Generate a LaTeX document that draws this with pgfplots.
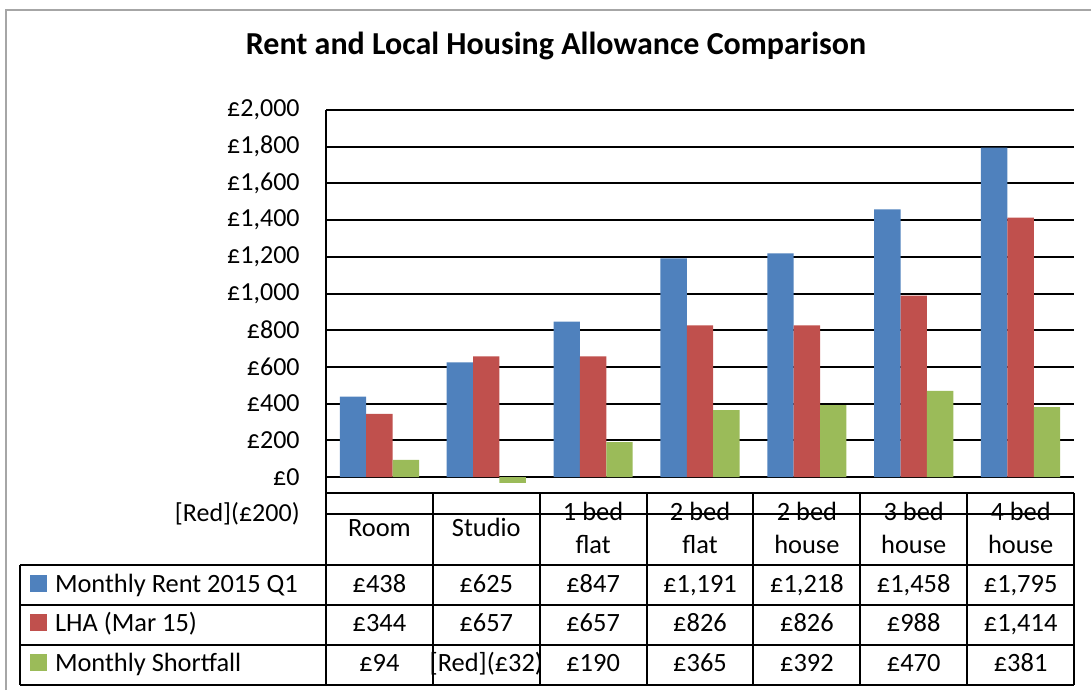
\documentclass[border=0pt]{standalone}
\usepackage{fontspec}
\setmainfont{Carlito}
\usepackage{pgfplots}
\pgfplotsset{compat=1.18}
\definecolor{cblue}{HTML}{4F81BD}
\definecolor{cred}{HTML}{C0504D}
\definecolor{cgreen}{HTML}{9BBB59}
\newcommand\tf{\fontsize{13.2}{15}\selectfont}
\newcommand\yf{\fontsize{13.0}{15}\selectfont}
\begin{document}
\begin{tikzpicture}
\useasboundingbox (0,0) rectangle (545.5pt,-345pt);
\begin{axis}[
  at={(163pt,-256.85pt)}, anchor=south west,
  scale only axis, width=374pt, height=201.85pt,
  xmin=-0.5, xmax=6.5, ymin=-200, ymax=2000,
  xtick=\empty,
  ytick={-200,0,200,400,600,800,1000,1200,1400,1600,1800,2000},
  yticklabels={{[Red](£200)},{£0},{£200},{£400},{£600},{£800},{£1,000},{£1,200},{£1,400},{£1,600},{£1,800},{£2,000}},
  axis x line=none, axis y line*=left,
  y axis line style={line width=1pt, black},
  ymajorgrids, grid style={black, line width=1pt},
  major tick length=0pt,
  yticklabel style={font=\yf, anchor=east, inner sep=0pt, xshift=-13pt},
  ybar=0pt, bar width=13.2pt,
]
\addplot[fill=cblue, draw=none] coordinates {(0,438) (1,625) (2,847) (3,1191) (4,1218) (5,1458) (6,1795)};
\addplot[fill=cred, draw=none] coordinates {(0,344) (1,657) (2,657) (3,826) (4,826) (5,988) (6,1414)};
\addplot[fill=cgreen, draw=none] coordinates {(0,94) (1,-32) (2,190) (3,365) (4,392) (5,470) (6,381)};
\end{axis}
\begin{scope}[x=0.5pt, y=-0.5pt, line width=1pt]
 \draw[gray!70, line width=1pt] (6,690) -- (6,10) -- (1091,10);
 \node[font=\fontsize{16}{19}\selectfont\bfseries, anchor=base, inner sep=0pt] at (556,55) {Rent and Local Housing Allowance Comparison};
 \draw (326,493) -- (1074,493);
 \foreach \i in {0,...,7} \draw (326+\i*106.857,493) -- (326+\i*106.857,685);
 \foreach \yy in {565,605,645,685} \draw (20,\yy) -- (1074,\yy);
 \draw (20,565) -- (20,685);
 % category header
 \begin{scope}[every node/.style={font=\tf, anchor=base, inner sep=0pt}]
 \node at (379.4,536) {Room};
 \node at (486.3,536) {Studio};
 \node at (593.1,520) {1 bed}; \node at (593.1,553) {flat};
 \node at (700.0,520) {2 bed}; \node at (700.0,553) {flat};
 \node at (806.9,520) {2 bed}; \node at (806.9,553) {house};
 \node at (913.7,520) {3 bed}; \node at (913.7,553) {house};
 \node at (1020.6,520) {4 bed}; \node at (1020.6,553) {house};
 % rows
 \node at (379.4,592) {£438}; \node at (486.3,592) {£625}; \node at (593.1,592) {£847};
 \node at (700.0,592) {£1,191}; \node at (806.9,592) {£1,218}; \node at (913.7,592) {£1,458}; \node at (1020.6,592) {£1,795};
 \node at (379.4,631) {£344}; \node at (486.3,631) {£657}; \node at (593.1,631) {£657};
 \node at (700.0,631) {£826}; \node at (806.9,631) {£826}; \node at (913.7,631) {£988}; \node at (1020.6,631) {£1,414};
 \node at (379.4,671) {£94}; \node at (486.3,671) {[Red](£32)}; \node at (593.1,671) {£190};
 \node at (700.0,671) {£365}; \node at (806.9,671) {£392}; \node at (913.7,671) {£470}; \node at (1020.6,671) {£381};
 \node[anchor=base west] at (54,592) {Monthly Rent 2015 Q1};
 \node[anchor=base west] at (54,631) {LHA (Mar 15)};
 \node[anchor=base west] at (54,671) {Monthly Shortfall};
 \end{scope}
 \fill[cblue] (30,575) rectangle (47,592);
 \fill[cred] (30,614) rectangle (47,631);
 \fill[cgreen] (30,654) rectangle (47,671);
\end{scope}
\end{tikzpicture}
\end{document}
